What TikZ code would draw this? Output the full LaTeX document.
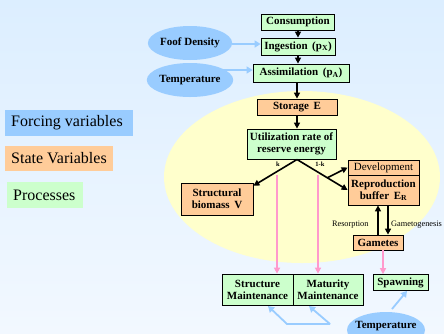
\documentclass[tikz,border=0pt]{standalone}
\usepackage{fontspec}
\setmainfont{Liberation Serif}
\usetikzlibrary{arrows.meta,calc,shapes.geometric}
\definecolor{bgtop}{HTML}{DCEEFF}
\definecolor{bgbot}{HTML}{F2F8FF}
\definecolor{procg}{HTML}{CCFFCC}
\definecolor{stateo}{HTML}{FFCC99}
\definecolor{forceb}{HTML}{99CCFF}
\definecolor{yell}{HTML}{FFFFCC}
\definecolor{pinkl}{HTML}{FF99CC}
\tikzset{
  proc/.style={draw=black,line width=0.8pt,fill=procg,font=\fontsize{11}{12}\selectfont\bfseries,inner sep=1pt,align=center},
  statebox/.style={draw=black,line width=0.8pt,fill=stateo,font=\fontsize{11}{12}\selectfont\bfseries,inner sep=1pt,align=center},
  forcing/.style={ellipse,fill=forceb,font=\fontsize{11}{12}\selectfont\bfseries,inner sep=0pt},
  blk/.style={line width=1.6pt,-{Triangle[length=6pt,width=6pt]}},
  pnk/.style={pinkl,line width=1.6pt,-{Triangle[length=6pt,width=6pt]}},
  blu/.style={forceb,line width=1.8pt,-{Triangle[length=6pt,width=7pt]}},
  legend/.style={font=\fontsize{16}{18}\selectfont,inner sep=0pt,anchor=west},
  small/.style={font=\fontsize{8.3}{10}\selectfont}
}
\begin{document}
\begin{tikzpicture}[x=1pt,y=-1pt]
\useasboundingbox (0,0) rectangle (444,333);
\shade[top color=bgtop,bottom color=bgbot] (0,0) rectangle (444,333);
\begin{scope}
\clip (0,0) rectangle (444,333);
% yellow ellipse
\fill[yell] (302,177) ellipse[x radius=138pt,y radius=86pt];

% legend
\fill[forceb] (5,110) rectangle (133,136);
\node[legend] (lf) at (11,123) {Forcing variables};
\fill[stateo] (5,146) rectangle (113,171);
\node[legend] (ls) at (11,158.5) {State Variables};
\fill[procg] (7,182) rectangle (83,208);
\node[legend] (lp) at (13,195) {Processes};

% forcing ellipses
\node[forcing,minimum width=76pt,minimum height=34pt] (fd) at (190,43) {Foof Density};
\node[forcing,minimum width=76pt,minimum height=34pt] (t1) at (190,80) {Temperature};
\node[forcing,minimum width=78pt,minimum height=36pt] (t2) at (386,330) {};
\node[font=\fontsize{11}{12}\selectfont\bfseries] (t2l) at (386,326) {Temperature};

% process boxes
\node[proc,minimum width=73pt,minimum height=16pt] (cons) at (298,22) {Consumption};
\node[proc,minimum width=74pt,minimum height=17pt] (ing) at (298,46.5) {Ingestion\,\ (p\textsubscript{X})};
\node[proc,minimum width=96pt,minimum height=18pt] (ass) at (301,73) {Assimilation\,\ (p\textsubscript{A})};
\node[statebox,minimum width=80pt,minimum height=16pt] (sto) at (297,107) {Storage\,\ E};
\node[proc,minimum width=89pt,minimum height=30pt] (util) at (291.5,144) {Utilization rate of\\reserve energy};
\node[statebox,minimum width=72pt,minimum height=32pt] (sb) at (217,199) {Structural\\biomass\,\ V};
\node[statebox,minimum width=71pt,minimum height=15pt,font=\fontsize{11}{12}\selectfont] (dev) at (383.5,167.5) {Development};
\node[statebox,minimum width=71pt,minimum height=30pt] (rb) at (383.5,190) {Reproduction\\buffer\,\ E\textsubscript{R}};
\node[statebox,minimum width=50pt,minimum height=15pt] (gam) at (378,242.5) {Gametes};
\node[proc,minimum width=55pt,minimum height=16pt] (spa) at (400.5,282.5) {Spawning};
\node[proc,minimum width=71pt,minimum height=31pt] (sm) at (257.5,289.5) {Structure\\Maintenance};
\node[proc,minimum width=70pt,minimum height=31pt] (mm) at (328,289.5) {Maturity\\Maintenance};

% forcing arrows
\draw[blu] (fd.east |- 0,44) -- (ing.west |- 0,44);
\coordinate (t1s) at (212,70);
\draw[blu] (t1s) -- (ass.west |- t1s);

% main flow
\draw[blk] (cons.south) -- (ing.north);
\draw[blk] (ing.south) -- (ing.south |- ass.north);
\draw[blk] (sto.north |- ass.south) -- (sto.north);
\draw[blk] (sto.south) -- (sto.south |- util.north);
\coordinate (split) at (297,159.5);
\draw[blk] (split) -- (sb.20);
\draw[blk] (split) -- (rb.west);
\coordinate (br) at ($(split)!0.6!(rb.west)$);
\draw[blk] (br) -- (dev.west);
\node[font=\fontsize{6.5}{7}\selectfont\bfseries] (lk) at (278,164.5) {k};
\node[font=\fontsize{6.5}{7}\selectfont\bfseries] (l1k) at (320,164.5) {1-k};

% pink maintenance arrows
\coordinate (pk1) at (277,175);
\coordinate (pk2) at (318,175);
\draw[pnk] (pk1) -- (pk1 |- sm.north);
\draw[pnk] (pk2) -- (pk2 |- mm.north);

% reproduction buffer <-> gametes
\draw[blk] (gam.north -| 378,0) -- (rb.south -| 378,0);
\draw[blk] (rb.south -| 388,0) -- (gam.north -| 388,0);
\node[small,anchor=east] (res) at (372,225) {Resorption};
\node[small,anchor=west,inner sep=0pt] (gen) at (391,225) {Gametogenesis};
\draw[pnk] (gam.south -| 383,0) -- (spa.north -| 383,0);

% temperature arrows
\coordinate (tj) at (330,324);
\coordinate (tb) at (287,324);
\draw[blu] (tj) -- (tb) -- (268,306);
\draw[blu] (tj) -- (309,306);
\coordinate (ts) at (392,309);
\draw[blu] (ts) -- (spa.south -| 407,0);
\end{scope}
\end{tikzpicture}
\end{document}
